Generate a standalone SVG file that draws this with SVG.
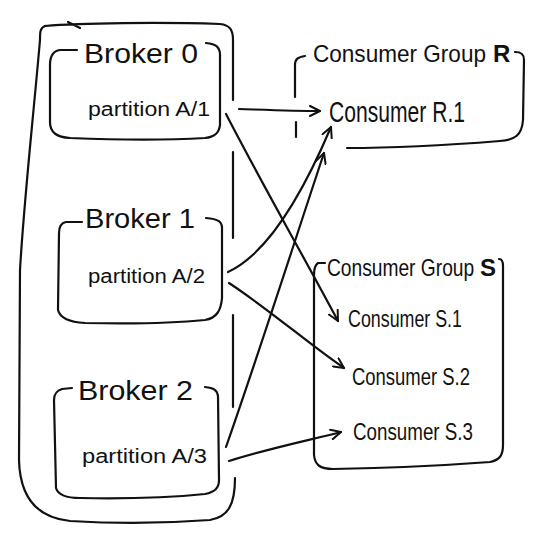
<svg xmlns="http://www.w3.org/2000/svg" width="537" height="537" viewBox="0 0 537 537">
<defs>
<style>
.ln{fill:none;stroke:#111;stroke-width:2.2;stroke-linecap:round;stroke-linejoin:round}
.t{font-family:"Liberation Sans","DejaVu Sans",sans-serif;fill:#111}
.b{font-size:28px}
.p{font-size:20px}
.g{font-size:24px}
.c{font-size:24px}
.bd{font-weight:bold}
</style>
<marker id="ah" viewBox="0 0 12 12" refX="11" refY="6" markerWidth="12" markerHeight="12" markerUnits="userSpaceOnUse" orient="auto">
<path d="M1,1 L11,6 L1,11" fill="none" stroke="#111" stroke-width="2" stroke-linecap="round" stroke-linejoin="round"/>
</marker>
</defs>
<rect width="537" height="537" fill="#fff"/>

<g id="cluster">
<path class="ln" d="M68,22 L80,28 M45,26 C80,23 160,22 220,24 C230,25 233,30 233,40 L233,100"/>
<path class="ln" d="M45,26 C40,28 40,32 40,40 C33,120 24,200 20,270 L19,460 C20,500 40,518 70,521 C120,524 170,523 210,520 C228,517 235,505 235,478"/>
<path class="ln" d="M233,152 L233,238 M233,315 L233,407"/>
</g>

<g id="broker0">
<path class="ln" d="M77,50 L60,50 C53,51 50,56 50,65 L50,122 C50,133 57,137 70,138 C120,140 170,140 205,138 C215,137 219,133 220,125 L220,55 C220,47 216,44 206,43"/>
<text class="t b" x="84" y="63" textLength="114" lengthAdjust="spacingAndGlyphs">Broker 0</text>
<text class="t p" x="88" y="116" textLength="122" lengthAdjust="spacingAndGlyphs">partition A/1</text>
</g>

<g id="broker1">
<path class="ln" d="M82,222 L66,222 C61,223 59,227 59,233 L58,310 C60,318 68,322 85,323 C130,324 175,323 205,320 C217,318 221,310 222,298 L222,228 C222,222 219,219 206,218"/>
<text class="t b" x="85" y="228" textLength="110" lengthAdjust="spacingAndGlyphs">Broker 1</text>
<text class="t p" x="88" y="283" textLength="117" lengthAdjust="spacingAndGlyphs">partition A/2</text>
</g>

<g id="broker2">
<path class="ln" d="M72,388 L62,389 C56,391 54,394 54,400 L56,488 C58,495 65,498 80,498 C130,499 175,497 205,494 C215,492 219,488 219,480 L218,396 C217,390 214,388 205,387"/>
<text class="t b" x="78" y="400" textLength="115" lengthAdjust="spacingAndGlyphs">Broker 2</text>
<text class="t p" x="82" y="463" textLength="125" lengthAdjust="spacingAndGlyphs">partition A/3</text>
</g>

<g id="groupR">
<path class="ln" d="M295,97 L295,65 C295,59 298,57 305,56"/>
<path class="ln" d="M296,122 L296,137"/>
<path class="ln" d="M515,52 C521,52 524,54 524,60 L523,120 C522,135 515,140 500,141 C450,145 390,148 347,148"/>
<text class="t g" transform="translate(313,62) scale(0.94,1)">Consumer Group</text>
<text class="t g bd" x="493" y="62">R</text>
</g>

<g id="consumerR1">
<text class="t" font-size="30" x="329" y="122" textLength="136" lengthAdjust="spacingAndGlyphs">Consumer R.1</text>
</g>

<g id="groupS">
<path class="ln" d="M325,263 L318,263 C315,265 314,268 314,275 L314,455 C315,465 320,469 333,469 C390,468 450,465 490,462 C500,460 503,455 503,445 L503,266 C503,261 502,259 499,259"/>
<text class="t g" transform="translate(327,276) scale(0.8,1)">Consumer Group</text>
<text class="t g bd" x="480" y="276">S</text>
</g>

<g id="consumerS1">
<text class="t c" x="348" y="327" textLength="114" lengthAdjust="spacingAndGlyphs">Consumer S.1</text>
</g>
<g id="consumerS2">
<text class="t c" x="352" y="385" textLength="118" lengthAdjust="spacingAndGlyphs">Consumer S.2</text>
</g>
<g id="consumerS3">
<text class="t c" x="353" y="440" textLength="120" lengthAdjust="spacingAndGlyphs">Consumer S.3</text>
</g>

<g id="connectors">
<path class="ln" d="M239,109 C270,110 295,111 320,111" marker-end="url(#ah)"/>
<path class="ln" d="M226,114 C260,180 300,250 338,321" marker-end="url(#ah)"/>
<path class="ln" d="M228,272 C265,255 300,200 331,127" marker-end="url(#ah)"/>
<path class="ln" d="M229,283 C270,310 310,345 344,368" marker-end="url(#ah)"/>
<path class="ln" d="M226,447 C260,350 295,240 324,153" marker-end="url(#ah)"/>
<path class="ln" d="M229,461 C270,448 310,440 341,432" marker-end="url(#ah)"/>
</g>
</svg>
